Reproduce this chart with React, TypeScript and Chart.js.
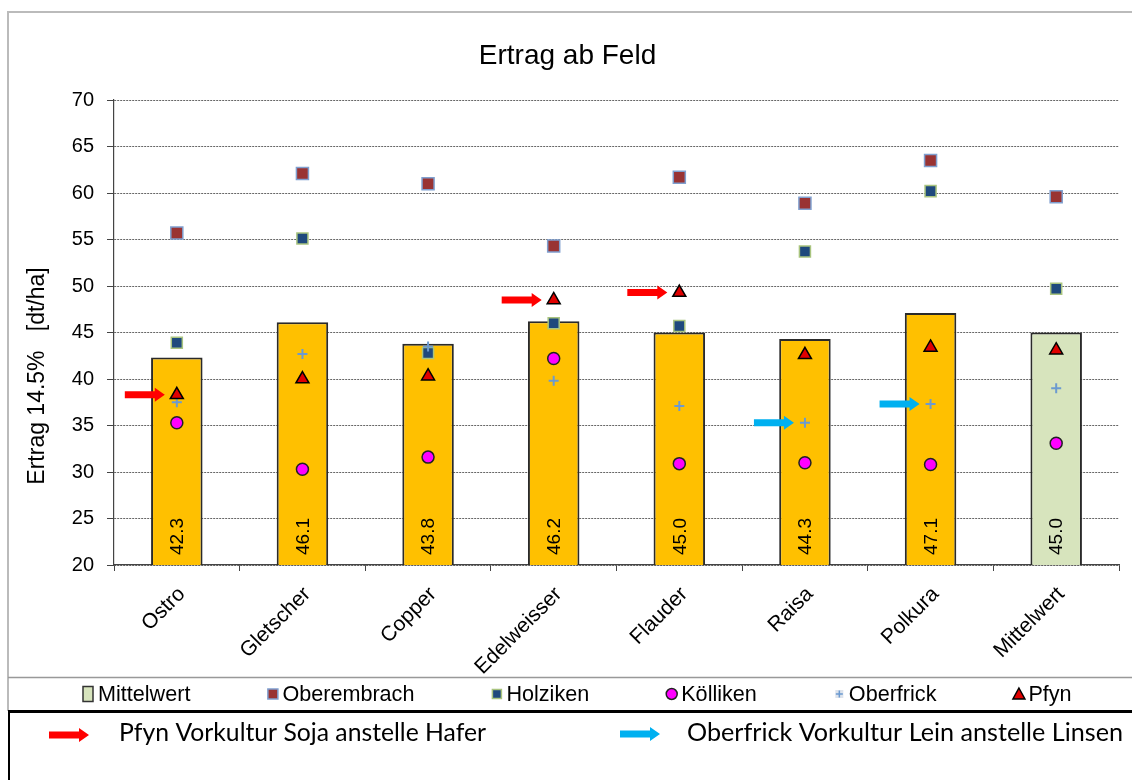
import React, { useEffect, useRef } from 'react';
import { Chart, registerables } from 'chart.js';

Chart.register(...registerables);

// ---------- data ----------
const categories = ['Ostro', 'Gletscher', 'Copper', 'Edelweisser', 'Flauder', 'Raisa', 'Polkura', 'Mittelwert'];
const meanValues = [42.3, 46.1, 43.8, 46.2, 45.0, 44.3, 47.1, 45.0];
const oberembrach = [55.7, 62.1, 61.0, 54.3, 61.7, 58.9, 63.5, 59.6];
const holziken = [43.9, 55.1, 42.8, 46.0, 45.7, 53.7, 60.2, 49.7];
const koelliken = [35.3, 30.3, 31.6, 42.2, 30.9, 31.0, 30.8, 33.1];
const oberfrick = [37.5, 42.7, 43.5, 39.8, 37.1, 35.3, 37.3, 39.0];
const pfyn = [38.3, 40.0, 40.3, 48.5, 49.3, 42.6, 43.4, 43.1];
const yMin = 20;
const yMax = 70;
const yStep = 5;
const titleText = 'Ertrag ab Feld';
const yTitle = 'Ertrag 14.5%   [dt/ha]';
const redArrowCats = ['Ostro', 'Edelweisser', 'Flauder']; // point to Pfyn
const blueArrowCats = ['Raisa', 'Polkura']; // point to Oberfrick
const noteRed = 'Pfyn Vorkultur Soja anstelle Hafer';
const noteBlue = 'Oberfrick Vorkultur Lein anstelle Linsen';

// ---------- styles ----------
const FONT = "'Liberation Sans', Arial, sans-serif";
const ORANGE = '#FFC000';
const GREEN = '#D7E4BD';
const RED_ARROW = '#FF0000';
const BLUE_ARROW = '#00B0F0';

function drawArrow(ctx: CanvasRenderingContext2D, tipX: number, y: number, color: string) {
  const len = 40, shaft = 7, headH = 14, headL = 10;
  ctx.save();
  ctx.fillStyle = color;
  ctx.beginPath();
  ctx.moveTo(tipX - len, y - shaft / 2);
  ctx.lineTo(tipX - headL, y - shaft / 2);
  ctx.lineTo(tipX - headL, y - headH / 2);
  ctx.lineTo(tipX, y);
  ctx.lineTo(tipX - headL, y + headH / 2);
  ctx.lineTo(tipX - headL, y + shaft / 2);
  ctx.lineTo(tipX - len, y + shaft / 2);
  ctx.closePath();
  ctx.fill();
  ctx.restore();
}

const barLabelPlugin = {
  id: 'barLabels',
  afterDatasetsDraw(chart: any) {
    const ctx = chart.ctx as CanvasRenderingContext2D;
    const meta = chart.getDatasetMeta(0);
    const baseY = chart.scales.y.getPixelForValue(yMin);
    ctx.save();
    ctx.fillStyle = '#000';
    ctx.font = `19px ${FONT}`;
    ctx.textAlign = 'left';
    ctx.textBaseline = 'middle';
    meta.data.forEach((el: any, i: number) => {
      ctx.save();
      ctx.translate(el.x + 1, baseY - 10);
      ctx.rotate(-Math.PI / 2);
      ctx.fillText(meanValues[i].toFixed(1), 0, 0);
      ctx.restore();
    });
    ctx.restore();
  },
};

const decorPlugin = {
  id: 'decor',
  afterDraw(chart: any) {
    const ctx = chart.ctx as CanvasRenderingContext2D;
    const W = chart.width;
    const H = chart.height;
    ctx.save();

    // outer grey frame
    ctx.strokeStyle = '#BBBBBB';
    ctx.lineWidth = 2;
    ctx.beginPath();
    ctx.moveTo(8, 711);
    ctx.lineTo(8, 12);
    ctx.lineTo(W, 12);
    ctx.stroke();
    ctx.lineWidth = 1.5;
    ctx.strokeStyle = '#999';
    ctx.beginPath();
    ctx.moveTo(8, 677.5);
    ctx.lineTo(W, 677.5);
    ctx.stroke();

    // y-axis title
    ctx.fillStyle = '#000';
    ctx.font = `23px ${FONT}`;
    ctx.textAlign = 'center';
    ctx.textBaseline = 'middle';
    ctx.save();
    ctx.translate(38, 376);
    ctx.rotate(-Math.PI / 2);
    ctx.fillText(yTitle, 0, 0);
    ctx.restore();

    // arrows on points
    const xs = chart.scales.x;
    const ys = chart.scales.y;
    redArrowCats.forEach((c) => {
      const i = categories.indexOf(c);
      drawArrow(ctx, xs.getPixelForValue(i) - 12, ys.getPixelForValue(pfyn[i]), RED_ARROW);
    });
    blueArrowCats.forEach((c) => {
      const i = categories.indexOf(c);
      drawArrow(ctx, xs.getPixelForValue(i) - 11, ys.getPixelForValue(oberfrick[i]), BLUE_ARROW);
    });

    // legend row
    const items = [
      { text: 'Mittelwert', kind: 'bar' },
      { text: 'Oberembrach', kind: 'ober' },
      { text: 'Holziken', kind: 'holz' },
      { text: 'Kölliken', kind: 'koel' },
      { text: 'Oberfrick', kind: 'plus' },
      { text: 'Pfyn', kind: 'tri' },
    ];
    ctx.font = `21.6px ${FONT}`;
    ctx.textAlign = 'left';
    ctx.textBaseline = 'middle';
    const markerW = 11, markGap = 4, itemGap = 77;
    const widths = items.map((it) => markerW + markGap + ctx.measureText(it.text).width);
    let x = 83;
    const ly = 694;
    items.forEach((it, k) => {
      const cx = x + markerW / 2;
      ctx.lineWidth = 1.5;
      if (it.kind === 'bar') {
        ctx.fillStyle = GREEN;
        ctx.strokeStyle = '#333';
        ctx.fillRect(x, ly - 7.5, 10, 15);
        ctx.strokeRect(x, ly - 7.5, 10, 15);
      } else if (it.kind === 'ober') {
        ctx.fillStyle = '#993333';
        ctx.strokeStyle = '#7F9FCF';
        ctx.fillRect(cx - 5, ly - 5, 10, 10);
        ctx.strokeRect(cx - 5, ly - 5, 10, 10);
      } else if (it.kind === 'holz') {
        ctx.fillStyle = '#1F497D';
        ctx.strokeStyle = '#A9C47F';
        ctx.fillRect(cx - 4.5, ly - 4.5, 9, 9);
        ctx.strokeRect(cx - 4.5, ly - 4.5, 9, 9);
      } else if (it.kind === 'koel') {
        ctx.fillStyle = '#FF00FF';
        ctx.strokeStyle = '#222';
        ctx.beginPath();
        ctx.arc(cx, ly, 5.5, 0, Math.PI * 2);
        ctx.fill();
        ctx.stroke();
      } else if (it.kind === 'plus') {
        ctx.fillStyle = '#DDE3EC';
        ctx.fillRect(cx - 4, ly - 4, 8, 8);
        ctx.strokeStyle = '#6C9AD0';
        ctx.beginPath();
        ctx.moveTo(cx - 3.5, ly);
        ctx.lineTo(cx + 3.5, ly);
        ctx.moveTo(cx, ly - 3.5);
        ctx.lineTo(cx, ly + 3.5);
        ctx.stroke();
      } else if (it.kind === 'tri') {
        ctx.fillStyle = '#E00000';
        ctx.strokeStyle = '#000';
        ctx.beginPath();
        ctx.moveTo(cx, ly - 6);
        ctx.lineTo(cx + 6, ly + 5);
        ctx.lineTo(cx - 6, ly + 5);
        ctx.closePath();
        ctx.fill();
        ctx.stroke();
      }
      ctx.fillStyle = '#000';
      ctx.fillText(it.text, x + markerW + markGap, ly + 1);
      x += widths[k] + itemGap;
    });

    // bottom note box
    ctx.strokeStyle = '#000';
    ctx.lineWidth = 3;
    ctx.beginPath();
    ctx.moveTo(8, 711.5);
    ctx.lineTo(W, 711.5);
    ctx.stroke();
    ctx.lineWidth = 2;
    ctx.beginPath();
    ctx.moveTo(9, 711);
    ctx.lineTo(9, H);
    ctx.stroke();

    drawArrow(ctx, 89, 735, RED_ARROW);
    drawArrow(ctx, 660, 734, BLUE_ARROW);
    const notes = [
      { text: noteRed, x: 119, w: 367 },
      { text: noteBlue, x: 687, w: 436 },
    ];
    ctx.font = `25px Lato, 'Open Sans', sans-serif`;
    ctx.textBaseline = 'alphabetic';
    ctx.fillStyle = '#000';
    notes.forEach((n) => {
      const mw = ctx.measureText(n.text).width;
      ctx.save();
      ctx.translate(n.x, 741);
      ctx.scale(n.w / mw, 1);
      ctx.fillText(n.text, 0, 0);
      ctx.restore();
    });

    ctx.restore();
  },
};

export default function App() {
  const ref = useRef<HTMLCanvasElement | null>(null);

  useEffect(() => {
    document.body.style.margin = '0';
    const canvas = ref.current;
    if (!canvas) return;
    const pointBase = { type: 'line', showLine: false, borderWidth: 1.5, pointBorderWidth: 1.5 };
    const chart = new Chart(canvas, {
      type: 'bar',
      data: {
        labels: categories,
        datasets: [
          {
            type: 'bar',
            label: 'Mittelwert',
            data: meanValues,
            backgroundColor: categories.map((c) => (c === 'Mittelwert' ? GREEN : ORANGE)),
            borderColor: '#2A2A2A',
            borderWidth: 2,
            categoryPercentage: 1,
            barPercentage: 0.41,
            order: 10,
          },
          {
            ...pointBase,
            label: 'Oberembrach',
            data: oberembrach,
            pointStyle: 'rect',
            pointRadius: 8.5,
            pointBackgroundColor: '#993333',
            pointBorderColor: '#7F9FCF',
            backgroundColor: '#993333',
            borderColor: '#7F9FCF',
            order: 6,
          },
          {
            ...pointBase,
            label: 'Holziken',
            data: holziken,
            pointStyle: 'rect',
            pointRadius: 7.8,
            pointBackgroundColor: '#1F497D',
            pointBorderColor: '#A9C47F',
            backgroundColor: '#1F497D',
            borderColor: '#A9C47F',
            order: 5,
          },
          {
            ...pointBase,
            label: 'Kölliken',
            data: koelliken,
            pointStyle: 'circle',
            pointRadius: 6,
            pointBackgroundColor: '#FF00FF',
            pointBorderColor: '#222',
            backgroundColor: '#FF00FF',
            borderColor: '#222',
            order: 4,
          },
          {
            ...pointBase,
            label: 'Oberfrick',
            data: oberfrick,
            pointStyle: 'cross',
            pointRadius: 5,
            pointBorderWidth: 2,
            pointBackgroundColor: '#6C9AD0',
            pointBorderColor: '#6C9AD0',
            backgroundColor: '#6C9AD0',
            borderColor: '#6C9AD0',
            order: 3,
          },
          {
            ...pointBase,
            label: 'Pfyn',
            data: pfyn,
            pointStyle: 'triangle',
            pointRadius: 7.5,
            pointBackgroundColor: '#E00000',
            pointBorderColor: '#000',
            backgroundColor: '#E00000',
            borderColor: '#000',
            order: 2,
          },
        ] as any,
      },
      options: {
        responsive: false,
        animation: false,
        devicePixelRatio: 1,
        layout: { padding: { left: 16, right: 13, top: 0, bottom: 102 } },
        plugins: {
          legend: { display: false },
          tooltip: { enabled: false },
          title: {
            display: true,
            text: titleText,
            color: '#000',
            font: { family: FONT, size: 28, weight: 'normal' as any, lineHeight: 1.2 },
            padding: { top: 39.2, bottom: 27.2 },
          },
        },
        scales: {
          x: {
            type: 'category',
            offset: true,
            afterFit: (s: any) => { s.height = 113; },
            grid: {
              display: true,
              drawOnChartArea: false,
              offset: true,
              tickLength: 6,
              tickColor: '#444',
              tickWidth: 1,
            },
            border: { display: true, color: '#444', width: 1.2 },
            ticks: {
              color: '#000',
              font: { family: FONT, size: 21 },
              minRotation: 45,
              maxRotation: 45,
              padding: 11,
              labelOffset: 5,
              autoSkip: false,
            },
          },
          y: {
            min: yMin,
            max: yMax,
            afterFit: (s: any) => { s.width = 98; },
            grid: {
              color: '#666',
              lineWidth: 1,
              tickLength: 7,
              tickColor: '#444',
              tickWidth: 1,
            },
            border: { display: true, color: '#444', width: 1.2, dash: [2, 1] },
            ticks: {
              stepSize: yStep,
              color: '#000',
              font: { family: FONT, size: 20 },
              padding: 13,
            },
          },
        },
      },
      plugins: [barLabelPlugin, decorPlugin],
    } as any);
    return () => chart.destroy();
  }, []);

  return (
    <div style={{ position: 'relative', width: 1132, height: 780, background: '#fff' }}>
      <canvas ref={ref} width={1132} height={780} style={{ display: 'block', width: 1132, height: 780 }} />
    </div>
  );
}
